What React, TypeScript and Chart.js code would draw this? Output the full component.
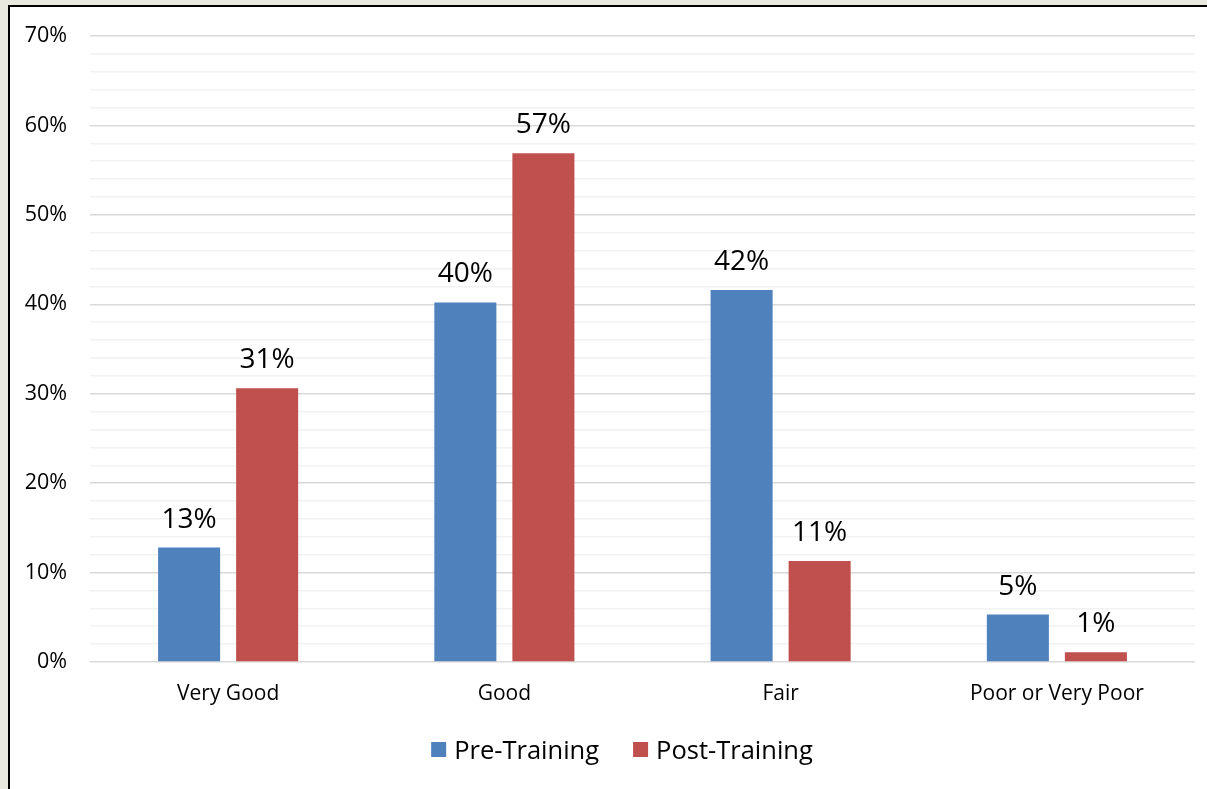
import React, { useEffect, useRef } from "react";
import { Chart, registerables } from "chart.js";

Chart.register(...registerables);

const categories = ["Very Good", "Good", "Fair", "Poor or Very Poor"];
const preTraining = [12.8, 40.2, 41.6, 5.3];
const postTraining = [30.6, 56.9, 11.3, 1.1];
const seriesNames = ["Pre-Training", "Post-Training"];
const yTickMax = 70;
const yTickStep = 2;
const yLabelStep = 10;

const FONT = "'Open Sans', 'DejaVu Sans', sans-serif";

const framePlugin = {
  id: "frame",
  beforeDraw(chart: any) {
    const { ctx, width, height } = chart;
    ctx.save();
    ctx.fillStyle = "#E9E9DF";
    ctx.fillRect(0, 0, width, height);
    ctx.fillStyle = "#FFFFFF";
    ctx.fillRect(8, 5, width - 8, height - 5);
    ctx.fillStyle = "#000000";
    ctx.fillRect(8, 5, width - 8, 2);
    ctx.fillRect(8, 5, 2, height - 5);
    ctx.restore();
  },
};

const labelPlugin = {
  id: "barLabels",
  afterDatasetsDraw(chart: any) {
    const { ctx } = chart;
    ctx.save();
    ctx.font = `28px ${FONT}`;
    ctx.fillStyle = "#000000";
    ctx.textAlign = "center";
    ctx.textBaseline = "alphabetic";
    chart.data.datasets.forEach((ds: any, i: number) => {
      const meta = chart.getDatasetMeta(i);
      meta.data.forEach((bar: any, j: number) => {
        const v = ds.data[j];
        ctx.fillText(`${Math.round(v)}%`, bar.x, bar.y - 20);
      });
    });
    ctx.restore();
  },
};

const legendPlugin = {
  id: "customLegend",
  afterDraw(chart: any) {
    const { ctx } = chart;
    const box = 15;
    const gapText = 8;
    const gapItem = 34;
    const centerX = 622;
    const boxTop = 742;
    const baseline = 758.5;
    ctx.save();
    ctx.font = `25.5px ${FONT}`;
    const items = chart.data.datasets.map((ds: any) => ({
      text: ds.label,
      color: ds.backgroundColor,
      w: ctx.measureText(ds.label).width,
    }));
    const total =
      items.reduce((s: number, it: any) => s + box + gapText + it.w, 0) +
      gapItem * (items.length - 1);
    let x = centerX - total / 2;
    ctx.textAlign = "left";
    ctx.textBaseline = "alphabetic";
    items.forEach((it: any) => {
      ctx.fillStyle = it.color;
      ctx.fillRect(x, boxTop, box, box);
      ctx.fillStyle = "#000000";
      ctx.fillText(it.text, x + box + gapText, baseline);
      x += box + gapText + it.w + gapItem;
    });
    ctx.restore();
  },
};

export default function App() {
  const ref = useRef<HTMLCanvasElement>(null);
  useEffect(() => {
    if (!ref.current) return;
    const chart = new Chart(ref.current, {
      type: "bar",
      data: {
        labels: categories,
        datasets: [
          {
            label: seriesNames[0],
            data: preTraining,
            backgroundColor: "#4F81BD",
            barPercentage: 0.795,
            categoryPercentage: 0.565,
          },
          {
            label: seriesNames[1],
            data: postTraining,
            backgroundColor: "#C0504D",
            barPercentage: 0.795,
            categoryPercentage: 0.565,
          },
        ],
      },
      options: {
        responsive: false,
        animation: false,
        layout: { padding: { left: 10, right: 12, top: 36, bottom: 78 } },
        plugins: {
          legend: { display: false },
          tooltip: { enabled: false },
        },
        scales: {
          x: {
            grid: { display: false, drawTicks: false },
            border: { display: false },
            afterFit: (s: any) => {
              s.height = 49;
            },
            ticks: {
              color: "#000000",
              font: { family: FONT, size: 21 },
              padding: 19,
            },
          },
          y: {
            min: 0,
            max: yTickMax,
            grid: {
              drawTicks: false,
              color: (c: any) =>
                c.tick && c.tick.value % yLabelStep === 0 ? "#D9D9D9" : "#F2F2F2",
              lineWidth: 1.5,
            },
            border: { display: false },
            afterFit: (s: any) => {
              s.width = 80;
            },
            ticks: {
              stepSize: yTickStep,
              autoSkip: false,
              padding: 23,
              color: "#000000",
              font: { family: FONT, size: 21.5 },
              callback: (v: any) => (v % yLabelStep === 0 ? `${v}%` : ""),
            },
          },
        },
      },
      plugins: [framePlugin, labelPlugin, legendPlugin],
    });
    return () => chart.destroy();
  }, []);
  return (
    <canvas
      ref={ref}
      width={1207}
      height={789}
      style={{ position: "fixed", left: 0, top: 0, width: 1207, height: 789 }}
    />
  );
}
